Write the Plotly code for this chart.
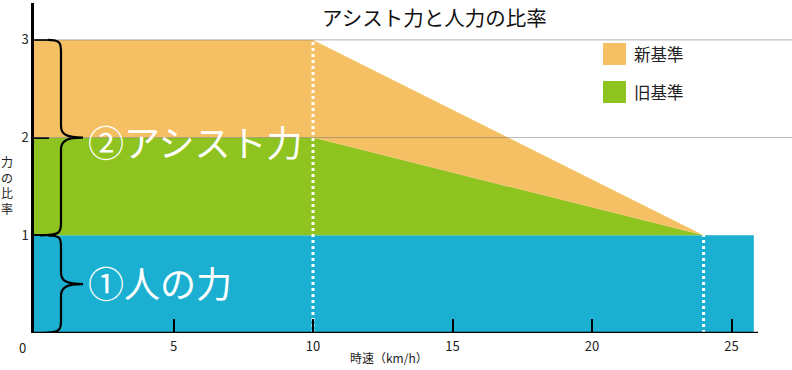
import plotly.graph_objects as go

# ---------------- data ----------------
speed = [0, 10, 24, 25.8]          # km/h
human = [1, 1, 1, 1]               # 人の力
old_std = [2, 2, 1, 1]             # 旧基準 (human + assist)
new_std = [3, 3, 1, 1]             # 新基準 (human + assist)
x_ticks = [5, 10, 15, 20, 25]
y_ticks = [1, 2, 3]
marker_speeds = [10, 24]
marker_tops = [3, 1]
brace_levels = [3, 1, 0]           # brace spans: 1-3 (assist), 0-1 (human)

title = "アシスト力と人力の比率"
legend_names = ["新基準", "旧基準"]
x_title = "時速（km/h）"
y_title = "力の比率"
label_assist = "②アシスト力"
label_human = "①人の力"

C_BLUE = "#1BB0D1"
C_GREEN = "#8FC320"
C_ORANGE = "#F5BF63"
FONT = "Noto Sans CJK JP"

# ---------------- geometry ----------------
W, H = 792, 370
PL, PR, PT, PB = 34, 0, 3, 37
PW, PH = W - PL - PR, H - PT - PB
XMAX = PW / 27.9
YMAX = PH / 97.7


def px(xp):
    return (xp - PL) / PW


def py(yp):
    return (H - PB - yp) / PH


fig = go.Figure()
fig.add_trace(go.Scatter(x=speed, y=human, mode="lines", line=dict(width=0),
                         fill="tozeroy", fillcolor=C_BLUE, hoverinfo="skip"))
fig.add_trace(go.Scatter(x=speed, y=old_std, mode="lines", line=dict(width=0),
                         fill="tonexty", fillcolor=C_GREEN, hoverinfo="skip"))
fig.add_trace(go.Scatter(x=speed, y=new_std, mode="lines", line=dict(width=0),
                         fill="tonexty", fillcolor=C_ORANGE, hoverinfo="skip"))
for xs, yt in zip(marker_speeds, marker_tops):
    fig.add_trace(go.Scatter(x=[xs, xs], y=[0, yt], mode="lines",
                             line=dict(color="white", width=3, dash="3px,3px"),
                             hoverinfo="skip"))

shapes = []
# grid lines over the fills
for g in [2, 3]:
    shapes.append(dict(type="line", xref="paper", yref="y", x0=0, x1=1, y0=g, y1=g,
                       line=dict(color="rgba(120,120,120,0.55)", width=1), layer="above"))
# x axis line (ends just past the data)
shapes.append(dict(type="line", xref="x", yref="y", x0=0, x1=speed[-1] + 0.15, y0=0, y1=0,
                   line=dict(color="black", width=2.5), layer="above"))


# braces
def brace(top, bot):
    mid = (top + bot) / 2
    r = 0.12
    return (f"M 14,{top} C 26,{top} 27,{top - 0.03} 27,{top - r} "
            f"L 27,{mid + r} C 27,{mid + 0.03} 33,{mid} 49,{mid} "
            f"C 33,{mid} 27,{mid - 0.03} 27,{mid - r} "
            f"L 27,{bot + r} C 27,{bot + 0.03} 26,{bot} 6,{bot}")


for top, bot in zip(brace_levels[:-1], brace_levels[1:]):
    shapes.append(dict(type="path", xref="x", yref="y", xsizemode="pixel", xanchor=0,
                       path=brace(top, bot), line=dict(color="black", width=2.2),
                       layer="above"))

# legend squares
for i, c in enumerate([C_ORANGE, C_GREEN]):
    y0 = 43 + i * 38
    shapes.append(dict(type="rect", xref="paper", yref="paper",
                       x0=px(603), x1=px(626), y0=py(y0 + 22), y1=py(y0),
                       fillcolor=c, line=dict(width=0)))

annotations = []


def note(text, x, y, size, color="#222", xanchor="center", xref="paper", yref="paper"):
    annotations.append(dict(text=text, xref=xref, yref=yref, x=x, y=y, xanchor=xanchor,
                            yanchor="middle", showarrow=False,
                            font=dict(family=FONT, size=size, color=color)))


note(title, px(434), py(17), 20.5, color="#111")
for i, name in enumerate(legend_names):
    note(name, px(632), py(54 + i * 38), 16.5, xanchor="left")
note(label_assist, (86 - PL) / 27.9, 1.97, 36, color="white", xanchor="left",
     xref="x", yref="y")
note(label_human, (86 - PL) / 27.9, 0.52, 36, color="white", xanchor="left",
     xref="x", yref="y")
note(x_title, px(389), py(357), 12)
note("<br>".join(y_title), px(7), py(185), 12)
note("0", px(22), py(347), 13)

fig.update_layout(
    width=W, height=H, margin=dict(l=PL, r=PR, t=PT, b=PB),
    paper_bgcolor="white", plot_bgcolor="white", showlegend=False,
    shapes=shapes, annotations=annotations,
    font=dict(family=FONT, size=13, color="#222"),
    xaxis=dict(range=[0, XMAX], tickvals=x_ticks, ticks="inside", ticklen=14, tickwidth=2,
               tickcolor="black", showgrid=False, zeroline=False, showline=False,
               tickfont=dict(size=13), ticklabelstandoff=4, fixedrange=True),
    yaxis=dict(range=[0, YMAX], tickvals=y_ticks, ticks="inside", ticklen=15, tickwidth=2,
               tickcolor="black", showgrid=False, zeroline=False, showline=True,
               linecolor="black", linewidth=2.5, tickfont=dict(size=13), fixedrange=True),
)

fig.write_html("out.html", config={"displayModeBar": False},
               post_script="document.body.style.margin='0';document.body.style.overflow='hidden';")
